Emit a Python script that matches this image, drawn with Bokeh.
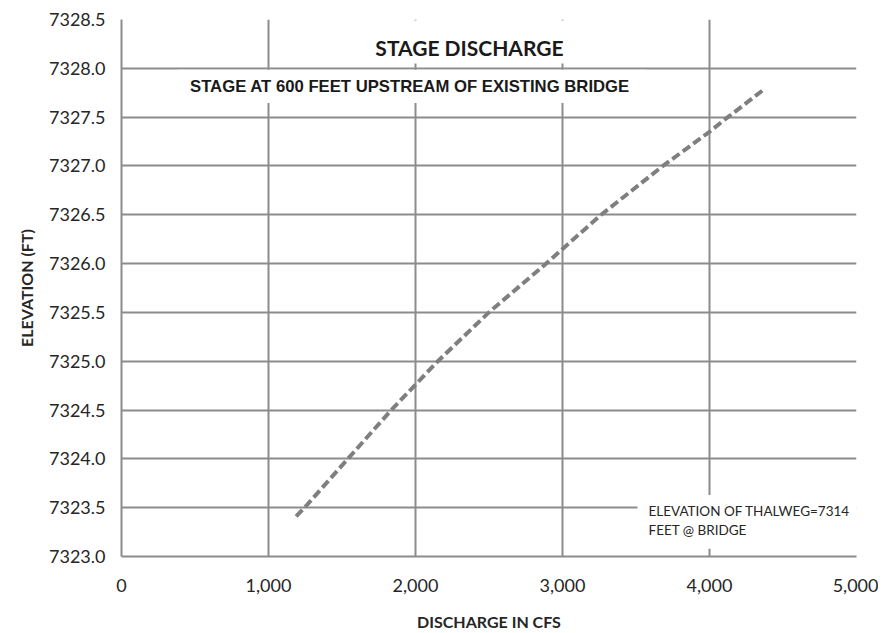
from bokeh.plotting import figure
from bokeh.models import (Range1d, FixedTicker, NumeralTickFormatter, BoxAnnotation, Label)
from bokeh.embed import file_html
from bokeh.resources import INLINE

# ---- data ----
discharge_cfs = [1188, 1245, 1540, 1835, 2152, 2499, 2889, 3000, 3263, 3683, 4000, 4125, 4367]
elevation_ft = [7323.41, 7323.50, 7324.00, 7324.50, 7325.00, 7325.50, 7326.00, 7326.15,
                7326.50, 7327.00, 7327.35, 7327.50, 7327.78]
x_ticks = [0, 1000, 2000, 3000, 4000, 5000]
y_ticks = [7323.0, 7323.5, 7324.0, 7324.5, 7325.0, 7325.5, 7326.0, 7326.5,
           7327.0, 7327.5, 7328.0, 7328.5]

title_text = "STAGE DISCHARGE"
subtitle_text = "STAGE AT 600 FEET UPSTREAM OF EXISTING BRIDGE"
note_lines = ["ELEVATION OF THALWEG=7314", "FEET  @ BRIDGE"]
x_label = "DISCHARGE IN CFS"
y_label = "ELEVATION (FT)"

GRID = "#8c8c8c"
TXT = "#262626"
FONT = "Lato"

p = figure(width=878, height=633, output_backend="svg", toolbar_location=None,
           x_range=Range1d(0, 5000), y_range=Range1d(7323.0, 7328.5),
           min_border_left=121, min_border_right=22, min_border_top=19,
           min_border_bottom=76)
p.outline_line_color = None
p.background_fill_color = "white"
p.border_fill_color = "white"

# grids
for g in (p.xgrid, p.ygrid):
    g.grid_line_color = GRID
    g.grid_line_width = 2
p.xaxis.ticker = FixedTicker(ticks=x_ticks)
p.yaxis.ticker = FixedTicker(ticks=y_ticks)
p.xaxis.formatter = NumeralTickFormatter(format="0,0")
p.yaxis.formatter = NumeralTickFormatter(format="0.0")

for ax in (p.xaxis[0], p.yaxis[0]):
    ax.axis_line_color = GRID
    ax.axis_line_width = 2
    ax.major_tick_line_color = None
    ax.minor_tick_line_color = None
    ax.major_tick_out = 0
    ax.major_tick_in = 0
    ax.major_label_text_font = FONT
    ax.major_label_text_font_size = "18px"
    ax.major_label_text_color = TXT
    ax.axis_label_text_font = FONT
    ax.axis_label_text_font_size = "16px"
    ax.axis_label_text_font_style = "bold"
    ax.axis_label_text_color = TXT

p.xaxis.axis_label = x_label
p.yaxis.axis_label = y_label
p.xaxis.major_label_standoff = 22
p.xaxis.axis_label_standoff = 17
p.yaxis.major_label_standoff = 16
p.yaxis.axis_label_standoff = 10

# the stage-discharge curve
p.line(discharge_cfs, elevation_ft, line_color="#7f7f7f", line_width=4,
       line_dash="9 4")

# white boxes behind texts
box_style = dict(fill_color="white", fill_alpha=1.0, line_color=None)
p.add_layout(BoxAnnotation(left=1027, right=3973, top=7328.49, bottom=7328.05, **box_style))
p.add_layout(BoxAnnotation(left=383, right=3571, top=7327.985, bottom=7327.645, **box_style))
p.add_layout(BoxAnnotation(left=3510, right=5015, top=7323.63, bottom=7323.08, **box_style))

p.add_layout(Label(x=2367, y=7328.21, text=title_text, text_align="center",
                   text_baseline="middle", text_font=FONT, text_font_style="bold",
                   text_font_size="21px", text_color="#1a1a1a"))
p.add_layout(Label(x=1962, y=7327.814, text=subtitle_text, text_align="center",
                   text_baseline="middle", text_font="Liberation Sans",
                   text_font_style="bold", text_font_size="16.7px", text_color="#1a1a1a"))
p.add_layout(Label(x=3585, y=7323.462, text=note_lines[0], text_align="left",
                   text_baseline="middle", text_font=FONT, text_font_size="13.5px",
                   text_color=TXT))
p.add_layout(Label(x=3585, y=7323.276, text=note_lines[1], text_align="left",
                   text_baseline="middle", text_font=FONT, text_font_size="13.5px",
                   text_color=TXT))

open("out.html", "w").write(file_html(p, INLINE))
